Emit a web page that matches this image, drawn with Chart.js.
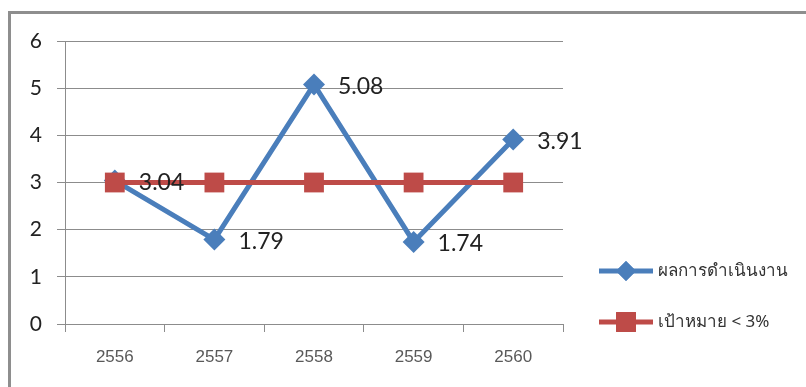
<!DOCTYPE html>
<html>
<head>
<meta charset="utf-8">
<script src="https://cdn.jsdelivr.net/npm/chart.js@4/dist/chart.umd.min.js"></script>
<style>
  html, body { margin: 0; padding: 0; background: #fff; }
  #wrap { position: relative; width: 806px; height: 387px; overflow: hidden; }
  #frame { position: absolute; left: 8px; top: 11px; width: 900px; height: 500px;
           border: 3px solid #8e8e8e; box-sizing: border-box; }
  canvas { position: absolute; left: 0; top: 0; }
</style>
</head>
<body>
<div id="wrap">
  <div id="frame"></div>
  <canvas id="c" width="806" height="387"></canvas>
</div>
<script>
// Fiscal years (Thai Buddhist calendar)
const years = ['2556', '2557', '2558', '2559', '2560'];
// Performance results per year
const results = [3.04, 1.79, 5.08, 1.74, 3.91];
// Target line
const target = [3, 3, 3, 3, 3];
const yTicks = [0, 1, 2, 3, 4, 5, 6];

const seriesNames = ['ผลการดำเนินงาน', 'เป้าหมาย < 3%'];
const blue = '#4a7ebb';
const red = '#be4b48';

// Value labels drawn to the right of each result point
const valueLabels = {
  id: 'valueLabels',
  afterDatasetsDraw(chart) {
    const meta = chart.getDatasetMeta(0);
    const ctx = chart.ctx;
    ctx.save();
    ctx.font = '23px Lato, "Open Sans", sans-serif';
    ctx.fillStyle = '#222';
    ctx.textAlign = 'left';
    ctx.textBaseline = 'middle';
    meta.data.forEach((pt, i) => {
      ctx.fillText(results[i].toFixed(2), pt.x + 24, pt.y + 2);
    });
    ctx.restore();
  }
};

// Legend on the right side, drawn with the same point styles as the series
const sideLegend = {
  id: 'sideLegend',
  afterDraw(chart) {
    const ctx = chart.ctx;
    const items = [
      { name: seriesNames[0], color: blue, style: 'rectRot', r: 10, y: 271 },
      { name: seriesNames[1], color: red, style: 'rect', r: 14, y: 322 }
    ];
    ctx.save();
    items.forEach(it => {
      ctx.strokeStyle = it.color;
      ctx.lineWidth = 5;
      ctx.beginPath();
      ctx.moveTo(599, it.y);
      ctx.lineTo(653, it.y);
      ctx.stroke();
      ctx.fillStyle = it.color;
      Chart.helpers.drawPoint(ctx, { pointStyle: it.style, radius: it.r, borderWidth: 0 }, 626, it.y);
      ctx.fill();
      ctx.fillStyle = '#333';
      ctx.font = '17px Tahoma, "Noto Sans", sans-serif';
      ctx.textAlign = 'left';
      ctx.textBaseline = 'middle';
      ctx.fillText(it.name, 658, it.y);
    });
    ctx.restore();
  }
};

new Chart(document.getElementById('c'), {
  type: 'line',
  data: {
    labels: years,
    datasets: [
      {
        label: seriesNames[0],
        data: results,
        borderColor: blue,
        backgroundColor: blue,
        borderWidth: 5,
        pointStyle: 'rectRot',
        pointRadius: 11,
        pointBorderWidth: 0,
        tension: 0,
        order: 1
      },
      {
        label: seriesNames[1],
        data: target,
        borderColor: red,
        backgroundColor: red,
        borderWidth: 5,
        pointStyle: 'rect',
        pointRadius: 14,
        pointBorderWidth: 0,
        tension: 0,
        order: 0
      }
    ]
  },
  options: {
    responsive: false,
    animation: false,
    layout: { padding: { left: 0, top: 41, right: 243, bottom: 0 } },
    plugins: {
      legend: { display: false },
      tooltip: { enabled: false },
      title: { display: false }
    },
    scales: {
      x: {
        offset: true,
        afterFit(s) { s.height = 63; },
        grid: { drawOnChartArea: false, drawTicks: true, tickLength: 8, color: '#8c8c8c', offset: true },
        border: { color: '#8c8c8c', width: 1 },
        ticks: { color: '#595959', font: { family: '"Liberation Sans", Arial, sans-serif', size: 17 }, padding: 15 }
      },
      y: {
        min: 0,
        max: 6,
        afterFit(s) { s.width = 65; },
        afterBuildTicks(s) { s.ticks = yTicks.map(v => ({ value: v })); },
        grid: { color: '#8c8c8c', tickLength: 8, lineWidth: 1 },
        border: { color: '#8c8c8c', width: 1 },
        ticks: { color: '#222', font: { family: 'Lato, "Open Sans", sans-serif', size: 21 }, padding: 15 }
      }
    }
  },
  plugins: [valueLabels, sideLegend]
});
</script>
</body>
</html>
